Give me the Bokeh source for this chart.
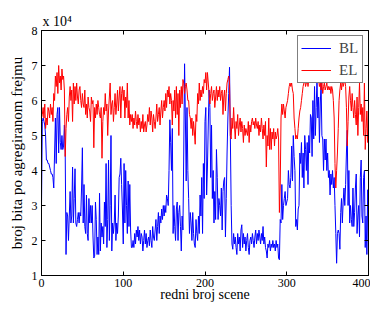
from bokeh.plotting import figure
from bokeh.models import Range1d, LinearAxis, Legend, LegendItem, FixedTicker
from bokeh.embed import file_html
from bokeh.resources import INLINE

# scene index
scene = list(range(401))

# bits per aggregated frame, in units of 1e4
bl = [
    3.0, 5.4, 5.5, 5.4, 5.3, 5.0, 4.3, 4.3, 4.2, 4.2,
    4.1, 4.0, 3.9, 3.9, 3.8, 3.5, 4.5, 5.5, 4.2, 5.6,
    5.8, 4.5, 5.8, 4.8, 4.6, 5.0, 4.6, 4.7, 5.3, 4.5,
    1.6, 2.8, 2.7, 2.0, 2.7, 3.4, 2.5, 2.7, 4.1, 2.5,
    3.2, 4.05, 2.5, 2.4, 2.6, 2.8, 2.5, 2.8, 2.7, 3.5,
    4.65, 2.5, 3.6, 2.4, 2.2, 3.3, 2.2, 2.0, 3.2, 2.5,
    3.0, 2.5, 3.0, 2.1, 1.5, 1.55, 3.1, 2.6, 1.6, 2.1,
    1.6, 3.35, 1.7, 2.5, 2.1, 2.4, 1.9, 3.1, 2.4, 4.2,
    1.8, 2.6, 4.3, 2.0, 3.0, 5.0, 1.7, 2.5, 2.2, 2.5,
    3.3, 2.0, 2.5, 2.2, 2.7, 3.8, 3.9, 4.35, 3.6, 2.9,
    1.9, 4.2, 2.5, 4.0, 3.0, 2.2, 3.7, 2.4, 3.6, 2.3,
    1.8, 1.8, 2.0, 1.8, 2.2, 1.9, 2.3, 2.1, 2.4, 2.0,
    2.3, 1.9, 2.2, 2.1, 1.7, 2.0, 2.3, 1.9, 2.2, 1.8,
    2.0, 2.1, 1.85, 2.3, 2.0, 1.8, 2.4, 2.1, 2.0, 2.3,
    2.6, 2.0, 2.4, 2.8, 2.2, 2.7, 2.5, 2.9, 2.6, 3.0,
    2.7, 3.0, 2.8, 3.3, 3.2, 3.0, 4.0, 5.45, 4.8, 4.0,
    5.2, 2.2, 3.0, 2.4, 2.0, 2.9, 3.1, 2.0, 2.8, 3.0,
    2.4, 1.7, 2.7, 2.3, 4.5, 7.05, 5.5, 3.7, 5.8, 4.0,
    3.2, 2.2, 2.8, 2.5, 2.0, 2.8, 2.2, 1.9, 1.8, 2.6,
    2.2, 2.0, 2.7, 2.2, 3.3, 2.7, 3.8, 2.2, 4.2, 3.2,
    5.4, 5.8, 3.3, 4.1, 5.3, 6.3, 5.8, 3.8, 5.3, 3.2,
    4.0, 2.5, 3.4, 2.6, 4.6, 3.8, 2.6, 3.2, 3.0, 2.7,
    3.5, 2.3, 3.4, 3.7, 3.8, 2.1, 3.2, 4.5, 5.5, 6.2,
    6.95, 5.0, 3.0, 1.9, 1.75, 2.2, 1.9, 2.1, 1.8, 1.6,
    2.2, 1.9, 2.1, 1.7, 2.3, 2.45, 1.8, 2.2, 1.9, 2.1,
    1.7, 2.0, 2.2, 1.8, 1.6, 2.0, 2.1, 1.9, 2.2, 2.0,
    1.8, 2.1, 2.3, 1.9, 2.2, 2.0, 2.3, 2.1, 1.9, 2.2,
    2.0, 2.4, 1.9, 2.1, 1.8, 1.7, 1.5, 1.9, 1.8, 2.0,
    1.7, 1.9, 1.8, 2.0, 1.8, 1.9, 1.7, 2.0, 1.8, 1.9,
    1.5, 1.45, 2.6, 2.5, 3.6, 2.6, 3.0, 3.2, 3.4, 3.0,
    3.1, 3.2, 4.0, 3.6, 3.5, 3.8, 4.7, 3.7, 5.0, 4.4,
    4.0, 2.4, 2.6, 2.3, 2.9, 3.0, 4.5, 4.2, 4.8, 3.8,
    4.5, 3.5, 5.0, 4.6, 4.0, 4.8, 3.6, 5.0, 4.5, 5.6,
    5.5, 4.4, 6.0, 4.9, 6.4, 5.0, 5.8, 6.6, 5.5, 6.1,
    4.8, 5.9, 6.5, 5.0, 4.9, 4.0, 4.9, 4.3, 4.9, 4.0,
    4.5, 3.8, 4.0, 3.3, 3.9, 3.6, 4.0, 3.5, 3.8, 3.0,
    2.2, 1.35, 2.2, 2.3, 2.2, 1.75, 2.8, 3.2, 2.5, 3.1,
    3.5, 3.0, 3.6, 4.5, 5.15, 3.0, 4.0, 2.5, 3.0, 2.6,
    2.4, 3.5, 2.4, 2.8, 3.5, 3.9, 2.2, 2.7, 3.0, 2.1,
    3.8, 4.3, 2.7, 2.5, 3.8, 4.0, 1.8, 2.7, 1.6, 3.45,
    1.6,
]

el = [
    5.5, 5.6, 5.8, 5.5, 5.9, 5.2, 5.5, 5.3, 5.8, 5.7,
    5.5, 5.9, 5.6, 5.8, 5.4, 6.2, 6.0, 6.7, 6.4, 6.8,
    6.2, 7.0, 6.5, 6.7, 6.3, 6.9, 6.6, 6.7, 6.3, 4.4,
    5.2, 5.6, 5.8, 5.4, 6.1, 6.4, 6.0, 6.3, 5.4, 6.5,
    5.9, 6.4, 6.0, 6.5, 6.1, 5.9, 6.3, 6.4, 6.0, 5.8,
    6.2, 5.9, 5.8, 6.3, 5.6, 5.9, 5.5, 6.1, 5.8, 5.7,
    5.4, 6.1, 5.9, 6.0, 4.65, 5.8, 5.5, 5.9, 5.6, 6.0,
    5.8, 5.6, 5.5, 5.8, 4.35, 5.4, 5.8, 5.6, 6.2, 5.7,
    5.9, 5.0, 5.7, 6.1, 6.5, 5.6, 5.9, 6.0, 5.4, 5.8,
    6.2, 5.6, 5.9, 6.3, 5.7, 6.1, 6.4, 5.5, 6.2, 6.4,
    6.0, 6.3, 5.5, 6.1, 5.8, 6.5, 5.5, 6.0, 5.3, 5.6,
    5.4, 5.6, 5.2, 5.5, 5.3, 5.7, 5.4, 5.2, 5.6, 5.3,
    5.5, 5.1, 5.4, 5.2, 5.6, 5.1, 5.3, 5.4, 5.1, 5.3,
    5.6, 5.4, 5.8, 5.3, 5.7, 5.5, 5.1, 5.6, 5.4, 5.2,
    5.5, 5.9, 5.4, 5.6, 5.8, 5.3, 5.7, 6.0, 5.5, 5.8,
    6.0, 5.7, 6.2, 5.8, 6.3, 6.1, 6.4, 5.9, 6.2, 6.0,
    5.3, 6.0, 5.7, 6.3, 5.5, 6.4, 5.6, 6.2, 5.0, 6.3,
    5.8, 6.4, 5.9, 6.6, 6.5, 6.2, 6.4, 6.5, 6.3, 6.0,
    6.0, 5.6, 5.5, 5.2, 5.5, 5.0, 5.4, 5.1, 4.75, 5.6,
    5.4, 6.2, 5.9, 6.5, 6.0, 6.3, 6.1, 6.4, 6.2, 6.6,
    6.5, 6.8, 6.3, 6.8, 6.5, 6.2, 5.9, 6.2, 6.4, 6.0,
    6.2, 6.3, 5.8, 6.1, 6.4, 6.0, 6.3, 6.1, 6.4, 6.0,
    6.2, 6.3, 5.6, 6.1, 6.3, 5.7, 6.2, 6.5, 6.6, 6.7,
    6.5, 5.0, 4.9, 5.5, 5.2, 5.8, 5.3, 4.9, 5.4, 5.2,
    5.6, 5.0, 5.3, 5.5, 5.1, 5.4, 5.2, 4.8, 5.3, 5.0,
    5.2, 5.1, 5.0, 5.4, 4.8, 5.3, 5.1, 5.4, 5.5, 5.3,
    5.4, 5.2, 5.5, 5.3, 5.2, 5.4, 5.0, 5.3, 5.1, 5.5,
    5.2, 4.9, 5.3, 5.0, 5.4, 4.1, 5.0, 4.7, 5.5, 4.6,
    5.2, 4.6, 5.1, 4.9, 5.2, 4.7, 5.1, 4.9, 5.0, 5.2,
    4.9, 2.8, 3.5, 5.5, 5.9, 5.6, 5.9, 5.7, 5.5, 5.8,
    5.9, 6.0, 6.2, 6.4, 6.5, 6.4, 6.5, 6.3, 6.2, 5.5,
    5.2, 4.9, 5.0, 4.9, 5.2, 5.5, 5.7, 5.8, 6.0, 6.2,
    6.4, 6.5, 6.6, 6.4, 6.5, 6.6, 6.4, 6.6, 6.5, 6.6,
    6.6, 6.5, 6.6, 6.5, 6.6, 6.6, 6.5, 6.6, 6.5, 6.6,
    6.4, 6.5, 6.3, 6.5, 6.2, 6.4, 6.5, 6.3, 6.4, 6.5,
    6.3, 6.4, 6.3, 6.4, 6.2, 6.4, 6.3, 6.0, 5.5, 4.2,
    3.5, 4.0, 4.5, 5.2, 6.0, 6.3, 6.5, 6.3, 6.6, 6.4,
    6.5, 6.6, 6.4, 5.8, 4.7, 5.4, 6.1, 6.4, 6.0, 5.7,
    6.2, 5.8, 5.5, 6.0, 5.6, 5.3, 6.1, 5.0, 5.8, 6.5,
    5.6, 5.9, 5.4, 5.8, 5.0, 6.5, 4.6, 5.2, 5.7, 4.8,
    5.75,
]

x_ticks = [0, 100, 200, 300, 400]
y_ticks = [1, 2, 3, 4, 5, 6, 7, 8]
exponent_text = "x 10\u2074"

FONT = "Liberation Serif"

p = figure(width=370, height=304, output_backend="svg", toolbar_location=None,
           x_range=Range1d(0, 400), y_range=Range1d(1, 8),
           min_border_left=41, min_border_right=2, min_border_top=30, min_border_bottom=0)
p.grid.visible = False
p.outline_line_color = "black"
p.outline_line_width = 1
p.background_fill_color = "white"
p.border_fill_color = "white"

p.title.text = exponent_text
p.title.align = "left"
p.title.offset = 1
p.title.standoff = 4
p.title.text_font = FONT
p.title.text_font_size = "14px"
p.title.text_font_style = "normal"
p.title.text_color = "black"

for ax, ticks in ((p.xaxis[0], x_ticks), (p.yaxis[0], y_ticks)):
    ax.ticker = FixedTicker(ticks=ticks)
    ax.major_tick_in = 4
    ax.major_tick_out = 0
    ax.minor_tick_line_color = None
    ax.axis_line_color = "black"
    ax.major_tick_line_color = "black"
    ax.major_label_text_font = FONT
    ax.major_label_text_font_size = "12px"
    ax.major_label_text_color = "black"
    ax.axis_label_text_font = FONT
    ax.axis_label_text_font_style = "normal"
    ax.axis_label_text_color = "black"

p.xaxis[0].axis_label = "redni broj scene"
p.xaxis[0].axis_label_text_font_size = "14px"
p.xaxis[0].major_label_standoff = 3
p.xaxis[0].axis_label_standoff = -3
p.yaxis[0].axis_label = "broj bita po agregiranom frejmu"
p.yaxis[0].axis_label_text_font_size = "15px"
p.yaxis[0].major_label_standoff = 4
p.yaxis[0].axis_label_standoff = 4

for loc, ticks in (("above", x_ticks), ("right", y_ticks)):
    ax = LinearAxis(ticker=FixedTicker(ticks=ticks), major_tick_in=4, major_tick_out=0,
                    minor_tick_line_color=None, major_label_text_font_size="1px",
                    major_label_text_color=None, major_label_standoff=0,
                    axis_line_color="black")
    p.add_layout(ax, loc)

r_bl = p.line(scene, bl, line_color="#0000ff", line_width=1)
r_el = p.line(scene, el, line_color="#ff0000", line_width=1)

legend = Legend(items=[LegendItem(label="BL", renderers=[r_bl]),
                       LegendItem(label="EL", renderers=[r_el])],
                location="top_right", margin=5, padding=3, spacing=4,
                label_height=18, glyph_width=30, glyph_height=18, label_standoff=8,
                label_text_font=FONT, label_text_font_size="15px",
                border_line_color="black", border_line_width=1,
                background_fill_color="white", background_fill_alpha=1)
p.add_layout(legend)

open("out.html", "w").write(file_html(p, INLINE))
